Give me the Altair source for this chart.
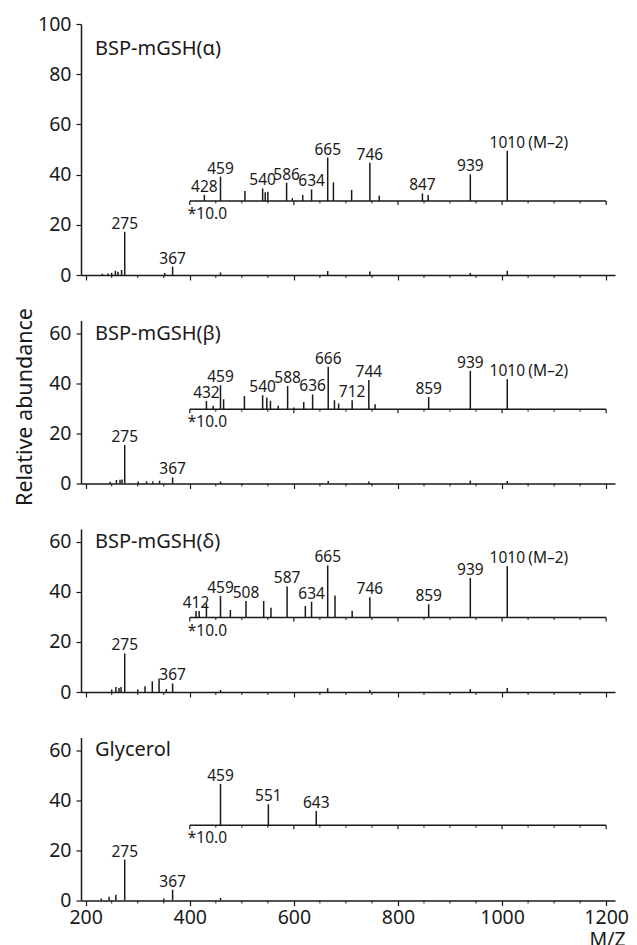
import altair as alt
import pandas as pd

FONT = "Noto Sans"
INK = "#1a1a1a"

# ---- axes / layout values ----
x_domain = [191, 1217]
x_ticks = [200, 400, 600, 800, 1000, 1200]
x_minor = [250, 300, 350, 450, 500, 550, 650, 700, 750, 850, 900, 950, 1050, 1100, 1150]
inset_span = [400, 1200]
inset_major = [400, 600, 800, 1000, 1200]
inset_minor = [450, 500, 550, 650, 700, 750, 850, 900, 950, 1050, 1100, 1150]

titles = ["BSP-mGSH(\u03b1)", "BSP-mGSH(\u03b2)", "BSP-mGSH(\u03b4)", "Glycerol"]
y_max = [100, 65, 65, 65]
y_ticks = [[0, 20, 40, 60, 80, 100], [0, 20, 40, 60], [0, 20, 40, 60], [0, 20, 40, 60]]
inset_base = [29.5, 29.6, 29.7, 30.0]
magnification = "*10.0"
parent_note = "(M\u20132)"
parent_mz = 1010
y_title = "Relative abundance"
x_title = "M/Z"

# ---- Panel 1: BSP-mGSH(alpha) ----
a_main_mz = [232, 243, 250, 257, 262, 269, 275, 352, 367, 459, 665, 746, 939, 1010]
a_main_v = [0.5, 0.6, 0.9, 1.7, 1.3, 2.0, 17.2, 0.8, 3.3, 1.0, 1.6, 1.4, 0.8, 1.7]
a_main_lab = [275, 367]
a_ins_mz = [428, 459, 506, 540, 545, 550, 586, 597, 617, 634, 665, 676, 711, 746, 764, 847, 858, 939, 1010]
a_ins_v = [31.9, 39.2, 33.5, 34.5, 33.0, 33.2, 36.8, 30.6, 31.9, 34.1, 46.8, 36.9, 33.9, 44.7, 31.6, 32.5, 31.9, 40.1, 49.5]
a_ins_lab = [428, 459, 540, 586, 634, 665, 746, 847, 939, 1010]

# ---- Panel 2: BSP-mGSH(beta) ----
b_main_mz = [247, 259, 266, 270, 275, 301, 317, 329, 342, 367, 459, 666, 744, 939, 1010]
b_main_v = [0.7, 1.4, 1.5, 1.6, 15.3, 0.8, 0.9, 0.8, 1.1, 2.4, 0.8, 1.0, 0.8, 1.2, 1.0]
b_main_lab = [275, 367]
b_ins_mz = [432, 445, 459, 465, 505, 540, 548, 555, 570, 588, 600, 619, 636, 666, 678, 686, 712, 744, 756, 859, 939, 1010]
b_ins_v = [32.9, 31.0, 39.2, 33.6, 34.9, 35.2, 34.3, 33.0, 31.0, 38.9, 30.3, 32.5, 35.5, 46.6, 33.2, 31.9, 33.2, 41.3, 31.6, 34.5, 44.9, 41.6]
b_ins_lab = [432, 459, 540, 588, 636, 666, 712, 744, 859, 939, 1010]

# ---- Panel 3: BSP-mGSH(delta) ----
d_main_mz = [250, 258, 264, 268, 275, 300, 314, 328, 341, 355, 367, 459, 665, 746, 939, 1010]
d_main_v = [1.0, 2.0, 1.6, 2.0, 15.4, 1.0, 2.3, 4.3, 5.4, 1.2, 3.4, 0.8, 1.5, 0.8, 1.2, 1.6]
d_main_lab = [275, 367]
d_ins_mz = [412, 418, 432, 459, 478, 508, 542, 556, 587, 622, 634, 665, 679, 712, 746, 859, 939, 1010]
d_ins_v = [32.3, 32.3, 35.4, 38.3, 32.7, 36.3, 36.3, 33.6, 42.1, 34.3, 36.0, 50.5, 38.5, 32.4, 37.8, 35.0, 45.5, 50.2]
d_ins_lab = [412, 459, 508, 587, 634, 665, 746, 859, 939, 1010]

# ---- Panel 4: Glycerol ----
g_main_mz = [230, 245, 258, 275, 350, 367, 459]
g_main_v = [0.8, 1.5, 2.3, 16.3, 0.8, 4.3, 1.0]
g_main_lab = [275, 367]
g_ins_mz = [459, 551, 643]
g_ins_v = [46.5, 38.4, 35.7]
g_ins_lab = [459, 551, 643]

panel_data = [
    (a_main_mz, a_main_v, a_main_lab, a_ins_mz, a_ins_v, a_ins_lab),
    (b_main_mz, b_main_v, b_main_lab, b_ins_mz, b_ins_v, b_ins_lab),
    (d_main_mz, d_main_v, d_main_lab, d_ins_mz, d_ins_v, d_ins_lab),
    (g_main_mz, g_main_v, g_main_lab, g_ins_mz, g_ins_v, g_ins_lab),
]

PLOT_W = 534
HEIGHTS = [251, 163, 163, 163]
TITLE_Y = [31, 19, 19, 18]


def build(i):
    main_mz, main_v, main_lab, ins_mz, ins_v, ins_lab = panel_data[i]
    bottom = i == 3
    base = inset_base[i]
    H = HEIGHTS[i]

    xs = alt.Scale(domain=x_domain, nice=False, zero=False)
    ys = alt.Scale(domain=[0, y_max[i]], nice=False, zero=True)

    xa = dict(values=x_ticks, tickSize=5, tickWidth=1.2, tickColor=INK, format="d",
              domainColor=INK, domainWidth=1.5, grid=False, labels=bottom,
              labelFont=FONT, labelFontSize=19.5, labelColor=INK, labelPadding=3,
              labelFlush=False)
    if bottom:
        xa.update(title=x_title, titleFont=FONT, titleFontSize=19.5, titleFontWeight="normal",
                  titleColor=INK, titleX=526, titleY=45, titleAlign="center",
                  titleBaseline="alphabetic")
    else:
        xa.update(title=None)
    ya = dict(values=y_ticks[i], tickSize=5, tickWidth=1.2, tickColor=INK,
              domainColor=INK, domainWidth=1.5, grid=False,
              labelFont=FONT, labelFontSize=19.5, labelColor=INK, labelPadding=5)
    if i == 1:
        ya.update(title=y_title, titleFont=FONT, titleFontSize=21.5, titleFontWeight="normal",
                  titleColor=INK, titleX=-50, titleY=86, titleAlign="center",
                  titleBaseline="alphabetic", titleAngle=270)
    else:
        ya.update(title=None)

    X = alt.X("mz:Q", scale=xs, axis=alt.Axis(**xa))
    Y = alt.Y("v:Q", scale=ys, axis=alt.Axis(**ya))

    main_df = pd.DataFrame({"mz": main_mz, "v": main_v, "b": 0.0})
    ins_df = pd.DataFrame({"mz": ins_mz, "v": ins_v, "b": base})
    main_lab_df = main_df[main_df["mz"].isin(main_lab)].copy()
    main_lab_df["t"] = main_lab_df["mz"].astype(str)
    ins_lab_df = ins_df[ins_df["mz"].isin(ins_lab)].copy()
    ins_lab_df["t"] = ins_lab_df["mz"].astype(str)
    span_df = pd.DataFrame({"mz": [inset_span[0]], "mz2": [inset_span[1]], "v": [base]})
    imaj_df = pd.DataFrame({"mz": inset_major, "v": base})
    imin_df = pd.DataFrame({"mz": inset_minor, "v": base})
    xmin_df = pd.DataFrame({"mz": x_minor, "v": 0.0})
    mag_df = pd.DataFrame({"mz": [inset_span[0]], "v": [base], "t": [magnification]})
    title_df = pd.DataFrame({"mz": [x_domain[0]], "v": [0.0], "t": [titles[i]]})

    layers = []
    layers.append(alt.Chart(main_df).mark_rule(color=INK, strokeWidth=1.5).encode(
        x=X, y=Y, y2=alt.Y2("b:Q")))
    layers.append(alt.Chart(xmin_df).mark_rule(color=INK, strokeWidth=1, y2Offset=3).encode(
        x=X, y=Y, y2=alt.Y2("v:Q")))
    layers.append(alt.Chart(span_df).mark_rule(color=INK, strokeWidth=1.5).encode(
        x=X, x2=alt.X2("mz2:Q"), y=Y))
    layers.append(alt.Chart(imaj_df).mark_rule(color=INK, strokeWidth=1.2, y2Offset=4).encode(
        x=X, y=Y, y2=alt.Y2("v:Q")))
    layers.append(alt.Chart(imin_df).mark_rule(color=INK, strokeWidth=1, y2Offset=2.5).encode(
        x=X, y=Y, y2=alt.Y2("v:Q")))
    layers.append(alt.Chart(ins_df).mark_rule(color=INK, strokeWidth=1.5).encode(
        x=X, y=Y, y2=alt.Y2("b:Q")))
    for df in (main_lab_df, ins_lab_df):
        layers.append(alt.Chart(df).mark_text(font=FONT, fontSize=15.5, color=INK, align="center",
                                              baseline="alphabetic", dy=-3).encode(
            x=X, y=Y, text="t:N"))
    if parent_mz in ins_lab:
        note_df = ins_df[ins_df["mz"] == parent_mz].copy()
        note_df["t"] = parent_note
        layers.append(alt.Chart(note_df).mark_text(font=FONT, fontSize=15.5, color=INK, align="left",
                                                   baseline="alphabetic", dy=-3, dx=21).encode(
            x=X, y=Y, text="t:N"))
    layers.append(alt.Chart(mag_df).mark_text(font=FONT, fontSize=15.5, color=INK, align="left",
                                              baseline="alphabetic", dy=18, dx=-2).encode(
        x=X, y=Y, text="t:N"))
    layers.append(alt.Chart(title_df).mark_text(font=FONT, fontSize=20, color=INK, align="left",
                                                baseline="alphabetic").encode(
        x=alt.value(14), y=alt.value(TITLE_Y[i]), text="t:N"))

    return alt.layer(*layers).properties(width=PLOT_W, height=H)


chart = alt.vconcat(*[build(i) for i in range(4)], spacing=45.5, bounds="flush").properties(
    padding={"left": 5, "top": 6, "right": 0, "bottom": 0}
).configure_view(strokeWidth=0)

chart.save("out.html", embed_options={"renderer": "svg", "actions": False})
